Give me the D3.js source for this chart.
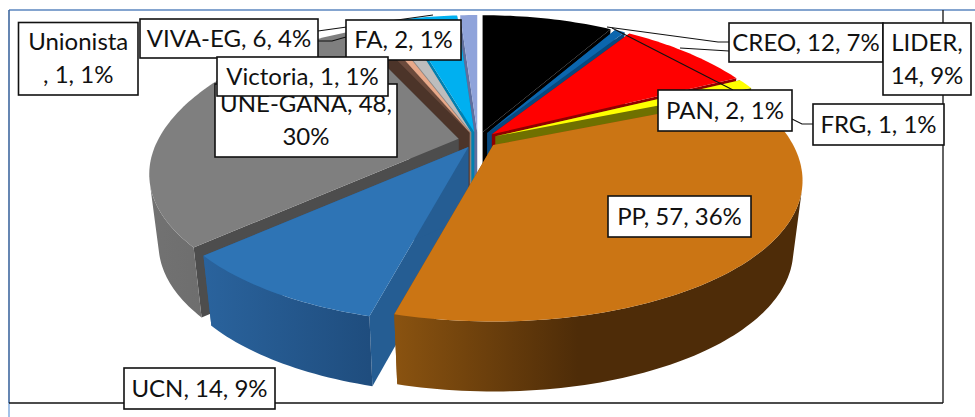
<!DOCTYPE html>
<html>
<head>
<meta charset="utf-8">
<script src="https://cdn.jsdelivr.net/npm/d3@7"></script>
<style>
html,body{margin:0;padding:0;background:#fff;}
svg{display:block;}
text{font-family:Lato,"Open Sans",sans-serif;fill:#111;}
</style>
</head>
<body>
<div id="chart"></div>
<script>
/* 3D exploded pie, Excel style. Clockwise from 12 o'clock.
   The light grey slice has no label in the picture; 2 makes the total 160,
   which is what the printed percentages add up to. */
var parties=["CREO","FRG","LIDER","PAN","PP","UCN","UNE-GANA","Unionista","Victoria","","VIVA-EG","FA"];
var seats=[12,1,14,2,57,14,48,1,1,2,6,2];
var shares=["7%","1%","9%","1%","36%","9%","30%","1%","1%","","4%","1%"];
var topColors=["#000000","#0b66ae","#ff0000","#ffff00","#cb7514","#2e74b5","#7f7f7f","#6b4a3c","#e8a98a","#bdbdbd","#00b0f0","#8fa3da"];
var faceColors=["#000000","#07497f","#8e0000","#6f7000","#8a5010","#255d93","#4d4d4d","#4c3429","#a87a63","#8a8a8a","#0080b0","#5f6f9e"];
var wallLeft=["#000000","#07497f","#a00000","#808000","#8a5310","#2a639d","#727272","#4c3429","#a87a63","#8a8a8a","#0080b0","#5f6f9e"];
var wallRight=["#000000","#07497f","#a00000","#808000","#4e2c08","#1f4d7e","#636363","#4c3429","#a87a63","#8a8a8a","#0080b0","#5f6f9e"];

/* label boxes: party index, x0, y0, x1, y1, text lines. Array order is paint order */
var labelBoxes=[
    [7,18.5,22.5,138,95,["Unionista",", 1, 1%"]],
    [10,140,19,318,58,["VIVA-EG, 6, 4%"]],
    [11,346,20,461,60,["FA, 2, 1%"]],
    [6,215,84,397,157,["UNE-GANA, 48,","30%"]],
    [8,217,57,388,96,["Victoria, 1, 1%"]],
    [0,729,23,883,62,["CREO, 12, 7%"]],
    [2,883,23,971,95,["LIDER,","14, 9%"]],
    [3,658,90,792,131,["PAN, 2, 1%"]],
    [1,813,104,944,145,["FRG, 1, 1%"]],
    [4,608,196,751,237,["PP, 57, 36%"]],
    [5,124,368,275,409,["UCN, 14, 9%"]]
];
var leaders=[
    [[607,27],[718,42],[729,42]],
    [[680,48],[729,51]],
    [[612,28],[733,90]],
    [[792,119],[802,124],[813,124]],
    [[318,31],[433,15]],
    [[318,41],[332,41],[346,37]]
];

var W=975,H=417;
var svg=d3.select("#chart").append("svg").attr("width",W).attr("height",H).attr("viewBox","0 0 "+W+" "+H);
var defs=svg.append("defs");

var cx=478,cy=140,Rx=312,Ry=128,explode=0.063,wallH=70,wallShrink=0.97;
var xs=d3.scaleLinear().domain([-1,1]).range([cx-Rx,cx+Rx]);
var ys=d3.scaleLinear().domain([-1,1]).range([cy+Ry,cy-Ry]);

/* not a real camera: near side is stretched by hand to follow the picture */
function depthScale(y){
    var f=300-65*y+50*y*y;
    if(y<0) f+=15*y*y*y*y;
    return f/Rx;
}
/* the back left slices look squeezed toward 12 o'clock in the picture */
function warp(theta){
    var phi=2*Math.PI-theta, q=Math.PI/2;
    if(phi>=q) return theta;
    return 2*Math.PI-phi*(0.75+0.25*phi/q);
}
function project(theta,r,low,mid){
    var t=warp(theta), y=r*Math.cos(t), x=r*Math.sin(t), s=depthScale(y);
    var k=low?wallShrink:1;
    var px=xs(x*s*k+explode*Math.sin(mid));
    var py=ys(y*s+explode*Math.cos(mid))+(low?wallH:0);
    return [px,py];
}

var pie=d3.pie().sort(null).startAngle(0).endAngle(2*Math.PI);
var arcs=pie(seats).map(function(d,i){
    var mid=(d.startAngle+d.endAngle)/2;
    var n=Math.max(2,Math.ceil((d.endAngle-d.startAngle)/0.02));
    var nearest=(d.startAngle<=Math.PI&&d.endAngle>=Math.PI)?-1:Math.min(Math.cos(d.startAngle),Math.cos(d.endAngle));
    return {i:i,mid:mid,nearest:nearest,
        steps:d3.range(n+1).map(function(t){return d.startAngle+(d.endAngle-d.startAngle)*t/n;})};
});
/* paint back to front */
arcs.sort(function(a,b){return b.nearest-a.nearest;});

var line=d3.line();
var pieG=svg.append("g");
arcs.forEach(function(a){
    var i=a.i,g=pieG.append("g").attr("class","slice").attr("data-party",parties[i]);
    var rimTop=a.steps.map(function(t){return project(t,1,false,a.mid);});
    var rimLow=a.steps.map(function(t){return project(t,1,true,a.mid);});
    var apexTop=project(0,0,false,a.mid),apexLow=project(0,0,true,a.mid);

    var gradId="wall"+i;
    var grad=defs.append("linearGradient").attr("id",gradId).attr("gradientUnits","userSpaceOnUse")
        .attr("x1",d3.min(rimTop,function(p){return p[0];})).attr("x2",d3.max(rimTop,function(p){return p[0];})).attr("y1",0).attr("y2",0);
    grad.append("stop").attr("offset",0).attr("stop-color",wallLeft[i]);
    grad.append("stop").attr("offset",i===4?0.45:1).attr("stop-color",wallRight[i]);

    /* the two cut faces, own top hides whichever one faces away */
    g.append("path").attr("d",line([apexTop,rimTop[0],rimLow[0],apexLow])+"Z").attr("fill",faceColors[i]);
    g.append("path").attr("d",line([apexTop,rimTop[rimTop.length-1],rimLow[rimLow.length-1],apexLow])+"Z").attr("fill",faceColors[i]);

    /* outer wall: only the stretch facing us, or the strip folds on itself and leaves a notch */
    var facing=d3.range(rimTop.length-1).filter(function(j){
        return d3.polygonArea([rimTop[j],rimTop[j+1],rimLow[j+1],rimLow[j]])>0;
    });
    if(facing.length){
        var from=facing[0],to=facing[facing.length-1]+2;
        var wallPts=rimTop.slice(from,to).concat(rimLow.slice(from,to).reverse());
        g.append("path").attr("d",line(wallPts)+"Z").attr("fill","url(#"+gradId+")");
    }
    /* top */
    g.append("path").attr("d",line([apexTop].concat(rimTop))+"Z").attr("fill",topColors[i]);
});

/* outer frame */
var frame=svg.append("g").attr("fill","none");
frame.append("path").attr("d",line([[9,10],[975,10]])).attr("stroke","#5b86bf").attr("stroke-width",1.4);
frame.append("path").attr("d",line([[9,10],[9,403]])).attr("stroke","#3f689f").attr("stroke-width",1.6);
frame.append("path").attr("d",line([[9,403],[9,417]])).attr("stroke","#8db3e2").attr("stroke-width",1.6);
frame.append("path").attr("d",line([[943,10],[943,403]])).attr("stroke","#222").attr("stroke-width",1.4);
frame.append("path").attr("d",line([[9,403],[943,403]])).attr("stroke","#111").attr("stroke-width",1.4);

svg.append("g").selectAll("path").data(leaders).enter().append("path")
    .attr("d",function(d){return line(d);}).attr("fill","none").attr("stroke","#111").attr("stroke-width",1.1);

var boxes=svg.append("g").selectAll("g").data(labelBoxes).enter().append("g");
boxes.append("rect")
    .attr("x",function(d){return d[1];}).attr("y",function(d){return d[2];})
    .attr("width",function(d){return d[3]-d[1];}).attr("height",function(d){return d[4]-d[2];})
    .attr("fill","#fff").attr("stroke","#111").attr("stroke-width",1.6);
boxes.each(function(d){
    var g=d3.select(this),mx=(d[1]+d[3])/2,my=(d[2]+d[4])/2,lh=33;
    d[5].forEach(function(t,j){
        g.append("text").attr("x",mx).attr("y",my+(j-(d[5].length-1)/2)*lh+8)
            .attr("text-anchor","middle").attr("font-size",24).text(t);
    });
});
</script>
</body>
</html>
